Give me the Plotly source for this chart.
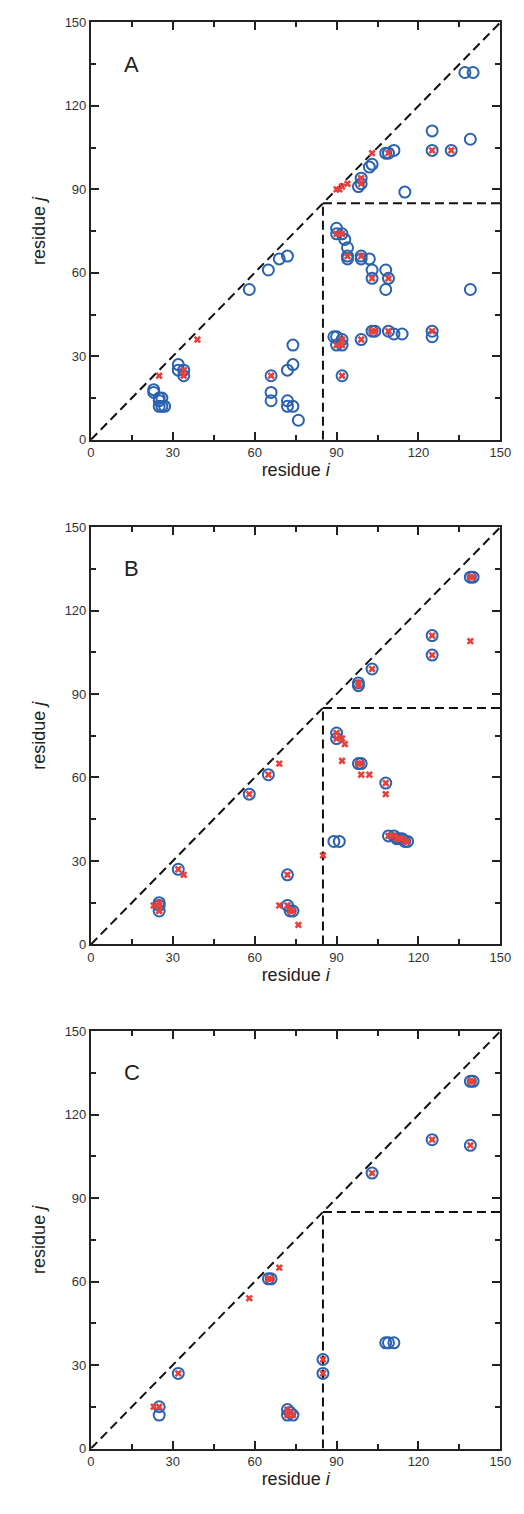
import plotly.graph_objects as go

# ---------------- data ----------------
# Panel A
a_circ_i = [137,140,125,139,125,132,108,109,111,102,103,99,99,98,115,
            90,90,92,93,94,94,94,99,99,102,103,103,108,109,108,139,
            89,90,90,92,92,99,103,104,109,111,114,125,125,92,
            74,74,72,72,74,72,76,
            58,65,69,72,
            32,32,34,34,23,23,25,26,25,25,26,27,
            66,66,66]
a_circ_j = [132,132,111,108,104,104,103,103,104,98,99,94,92,91,89,
            76,74,74,72,69,66,65,66,65,65,61,58,61,58,54,54,
            37,37,34,34,36,36,39,39,39,38,38,39,37,23,
            34,27,25,14,12,12,7,
            54,61,65,66,
            27,25,25,23,18,17,15,15,14,12,12,12,
            23,17,14]
a_x_i = [132,125,109,103,99,99,90,91,92,94,
         90,92,94,99,103,109,
         90,92,92,99,103,104,109,125,92,
         39,25,34,34,66]
a_x_j = [104,104,103,103,94,92,90,90,91,92,
         74,74,66,66,58,58,
         34,34,36,36,39,39,39,39,23,
         36,23,25,23,23]

# Panel B
b_circ_i = [139,140,125,125,103,98,98,
            90,90,98,99,108,89,91,
            109,111,112,113,114,115,116,
            72,72,73,74,65,58,32,25,25,25]
b_circ_j = [132,132,111,104,99,94,93,
            76,74,65,65,58,37,37,
            39,39,38,38,38,37,37,
            25,14,12,12,61,54,27,15,14,12]
b_x_i = [139,140,139,125,125,103,98,98,
         90,90,92,93,92,98,99,99,102,108,108,85,
         109,111,112,113,114,115,116,
         72,72,73,74,69,76,69,65,58,32,34,25,25,25,23]
b_x_j = [132,132,109,111,104,99,94,93,
         76,74,74,72,66,65,65,61,61,58,54,32,
         39,39,38,38,38,37,37,
         25,14,12,12,14,7,65,61,54,27,25,15,14,12,14]

# Panel C
c_circ_i = [139,140,125,139,103,108,109,111,85,85,72,73,74,72,65,66,32,25,25]
c_circ_j = [132,132,111,109,99,38,38,38,32,27,14,13,12,12,61,61,27,15,12]
c_x_i = [139,140,125,139,103,85,85,72,73,74,72,69,65,66,58,32,23,25]
c_x_j = [132,132,111,109,99,32,27,14,13,12,12,65,61,61,54,27,15,15]

panel_labels = ["A", "B", "C"]
tick_vals = [0, 30, 60, 90, 120, 150]
tick_text = ["0", "30", "60", "90", "120", "150"]
split_residue = 85
axis_max = 150

panels = [(a_circ_i, a_circ_j, a_x_i, a_x_j),
          (b_circ_i, b_circ_j, b_x_i, b_x_j),
          (c_circ_i, c_circ_j, c_x_i, c_x_j)]

# ---------------- layout geometry ----------------
# page body has an 8px margin, so the figure is drawn 8px in from the corner
OFF = 8
W, H = 524 - OFF, 1514 - 2 * OFF
x_left, x_right = 89.3 - OFF, 511.0 - OFF
panel_tops = [15.5 - OFF, 525.3 - OFF, 1034.5 - OFF]
panel_bots = [437.0 - OFF, 946.8 - OFF, 1456.0 - OFF]

BLUE = "#2a62b0"
RED = "#e8413c"
FONT = "Liberation Sans, Arial, sans-serif"

fig = go.Figure()
layout = dict(
    width=W, height=H,
    margin=dict(l=0, r=0, t=0, b=0),
    paper_bgcolor="white", plot_bgcolor="white",
    showlegend=False,
    font=dict(family=FONT, color="#222222"),
)
shapes = []
annotations = []

for k, (ci, cj, xi, xj) in enumerate(panels):
    n = k + 1
    xa = "x" if n == 1 else f"x{n}"
    ya = "y" if n == 1 else f"y{n}"
    fig.add_trace(go.Scatter(
        x=ci, y=cj, mode="markers", xaxis=xa, yaxis=ya,
        marker=dict(symbol="circle-open", size=11, color=BLUE,
                    line=dict(width=2, color=BLUE)),
        hoverinfo="skip"))
    fig.add_trace(go.Scatter(
        x=xi, y=xj, mode="markers", xaxis=xa, yaxis=ya,
        marker=dict(symbol="x", size=6.5, color=RED, line=dict(width=0)),
        hoverinfo="skip"))

    ax_common = dict(
        range=[0, axis_max], tickvals=tick_vals, ticktext=tick_text,
        ticks="inside", ticklen=8, tickwidth=2, tickcolor="#222222",
        showline=True, linewidth=2, linecolor="#222222", mirror="allticks",
        showgrid=False, zeroline=False,
        minor=dict(ticks="inside", ticklen=5, tickwidth=2, dtick=15,
                   tickcolor="#222222", showgrid=False),
        tickfont=dict(size=13, family=FONT, color="#333333"),
        fixedrange=True,
    )
    xkey = "xaxis" if n == 1 else f"xaxis{n}"
    ykey = "yaxis" if n == 1 else f"yaxis{n}"
    layout[xkey] = dict(
        ax_common,
        domain=[x_left / W, x_right / W],
        anchor=ya,
        title=dict(text="residue <i>i</i>", font=dict(size=18, family=FONT, color="#222222"),
                   standoff=3),
    )
    layout[ykey] = dict(
        ax_common,
        domain=[1 - panel_bots[k] / H, 1 - panel_tops[k] / H],
        anchor=xa,
        title=dict(text="residue <i>j</i>", font=dict(size=18, family=FONT, color="#222222"),
                   standoff=14),
    )

    line_style = dict(color="#111111", width=2, dash="9px,5px")
    shapes.append(dict(type="line", xref=xa, yref=ya, x0=0, y0=0,
                       x1=axis_max, y1=axis_max, line=line_style, layer="below"))
    shapes.append(dict(type="line", xref=xa, yref=ya, x0=split_residue, y0=0,
                       x1=split_residue, y1=split_residue, line=line_style, layer="below"))
    shapes.append(dict(type="line", xref=xa, yref=ya, x0=split_residue, y0=split_residue,
                       x1=axis_max, y1=split_residue, line=line_style, layer="below"))

    annotations.append(dict(
        text=panel_labels[k], xref=f"{xa} domain", yref=f"{ya} domain",
        x=0.10, y=0.90, showarrow=False, xanchor="center", yanchor="middle",
        font=dict(size=22, family=FONT, color="#222222")))

layout["shapes"] = shapes
layout["annotations"] = annotations
fig.update_layout(**layout)
fig.write_html("out.html")
